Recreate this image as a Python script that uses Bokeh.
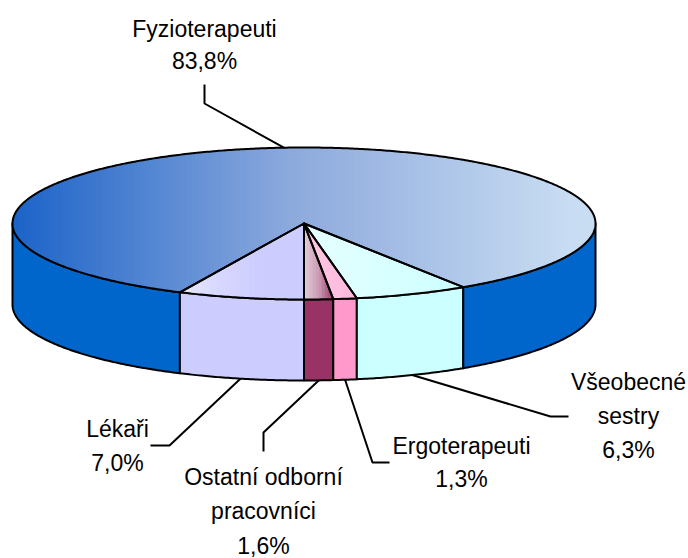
import math
from bokeh.plotting import figure
from bokeh.embed import file_html
from bokeh.resources import INLINE
from bokeh.core.properties import value

categories = ["Ostatní odborní pracovníci", "Ergoterapeuti", "Všeobecné sestry", "Fyzioterapeuti", "Lékaři"]
shares = [1.6, 1.3, 6.3, 83.8, 7.0]
share_labels = ["1,6%", "1,3%", "6,3%", "83,8%", "7,0%"]
side_colors = ["#993366", "#FF99CC", "#CCFFFF", "#0066CC", "#CCCCFF"]
top_left = ["#E4CCD8", "#FFC8E4", "#E6FFFF", "#1A62C8", "#E8E8FF"]
top_mid = ["#C99AB2", "#FFC0E0", "#D9FFFF", "#8CA9DC", "#D6D6FF"]
top_right = ["#993366", "#FFB8DC", "#CCFFFF", "#C8DCF2", "#CCCCFF"]
grad_span = [(304, 334), (304, 356), (304, 463), (11, 570), (180, 262)]

CX, CY, RX, RY, DEPTH = 303.5, 223.0, 291.5, 76.0, 81.0
FONT = value("Liberation Sans")
FS = "23px"

p = figure(width=688, height=558, x_range=(0, 688), y_range=(558, 0),
           output_backend="svg", toolbar_location=None, min_border=0)
p.axis.visible = False
p.grid.visible = False
p.outline_line_color = None


def pt(a, dy=0.0):
    r = math.radians(a)
    return CX + RX * math.sin(r), CY + RY * math.cos(r) + dy


def arc(a0, a1, dy=0.0):
    n = max(2, int(abs(a1 - a0)) * 2)
    return [pt(a0 + (a1 - a0) * i / n, dy) for i in range(n + 1)]


def clip(poly, xmin, xmax):
    def half(points, inside, cut):
        out = []
        for i, q in enumerate(points):
            r = points[(i + 1) % len(points)]
            if inside(q):
                out.append(q)
            if inside(q) != inside(r):
                t = (cut - q[0]) / (r[0] - q[0])
                out.append((cut, q[1] + t * (r[1] - q[1])))
        return out
    res = half(poly, lambda q: q[0] >= xmin, xmin)
    if res:
        res = half(res, lambda q: q[0] <= xmax, xmax)
    return res


def mix2(c0, c1, t):
    a = [int(c0[i:i + 2], 16) for i in (1, 3, 5)]
    b = [int(c1[i:i + 2], 16) for i in (1, 3, 5)]
    return "#%02x%02x%02x" % tuple(round(u + (v - u) * t) for u, v in zip(a, b))


def mix(c0, cm, c1, t):
    t = max(0.0, min(1.0, t))
    return mix2(c0, cm, t * 2) if t < 0.5 else mix2(cm, c1, t * 2 - 1)


# slice angles, measured clockwise from the front of the pie
bounds = []
angle = 0.0
for s in shares:
    bounds.append((angle, angle + s * 3.6))
    angle += s * 3.6

FRONT = [(0, 90), (270, 360)]
for (a0, a1), col in zip(bounds, side_colors):
    for f0, f1 in FRONT:
        lo, hi = max(a0, f0), min(a1, f1)
        if hi <= lo:
            continue
        upper = arc(lo, hi)
        lower = arc(hi, lo, DEPTH)
        pts = upper + lower
        p.patch([q[0] for q in pts], [q[1] for q in pts], fill_color=col,
                line_color="black", line_width=2, line_join="round")

for (a0, a1), c0, cm, c1, (g0, g1) in zip(bounds, top_left, top_mid, top_right, grad_span):
    poly = [(CX, CY)] + arc(a0, a1)
    xs_all = [q[0] for q in poly]
    x = min(xs_all)
    end = max(xs_all)
    step = 3.0
    xs, ys, cols = [], [], []
    while x < end:
        part = clip(poly, x, x + step)
        if len(part) >= 3:
            xs.append([q[0] for q in part])
            ys.append([q[1] for q in part])
            cols.append(mix(c0, cm, c1, (x + step / 2 - g0) / (g1 - g0)))
        x += step
    p.patches(xs, ys, fill_color=cols, line_color=cols, line_width=0.8)

for a0, a1 in bounds:
    pts = [(CX, CY)] + arc(a0, a1)
    p.patch([q[0] for q in pts], [q[1] for q in pts], fill_color=None,
            line_color="black", line_width=2, line_join="round")

# leader lines: first point sits on the rim at the slice's middle angle
elbows = [[(263, 432), (263, 451)], [(372, 462), (389, 462)], [(550, 416), (568, 416)],
          [(204, 103), (204, 84)], [(169, 445), (150, 445)]]
for (a0, a1), elbow in zip(bounds, elbows):
    mid = (a0 + a1) / 2
    back = 90 < mid < 270
    start = pt(mid, 0 if back else DEPTH)
    pts = [start] + elbow
    p.line([q[0] for q in pts], [q[1] for q in pts], line_color="black", line_width=2)

label_lines = [["Ostatní odborní", "pracovníci"], ["Ergoterapeuti"], ["Všeobecné", "sestry"],
               ["Fyzioterapeuti"], ["Lékaři"]]
label_pos = [(263, 476, 34.5), (461, 445, 33), (628, 381, 34), (204, 28, 32), (117, 428, 34)]
for lines, pct, (x, y, lead) in zip(label_lines, share_labels, label_pos):
    rows = lines + [pct]
    p.text([x] * len(rows), [y + i * lead for i in range(len(rows))], text=rows,
           text_font=FONT, text_font_size=FS, text_color="black",
           text_align="center", text_baseline="middle")

open("out.html", "w").write(file_html(p, INLINE))
